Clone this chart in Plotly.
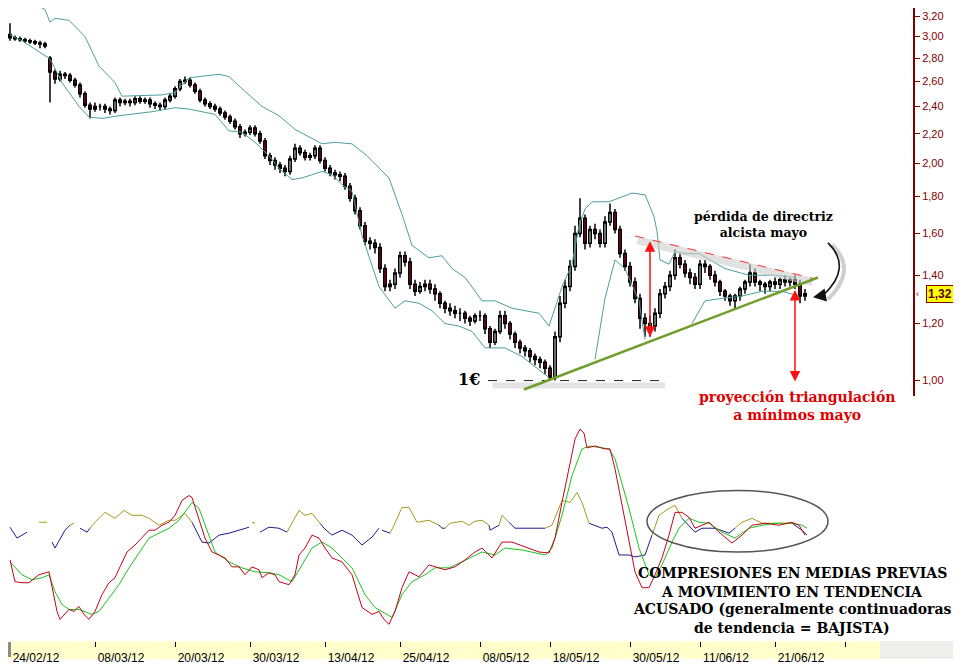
import math
import plotly.graph_objects as go

# ---- price candles (one bar per index) ----
opens = [3.02, 2.99, 2.98, 2.97, 2.96, 2.95, 2.94, 2.93, 2.80, 2.68,
         2.62, 2.66, 2.65, 2.61, 2.57, 2.50, 2.41, 2.38, 2.40, 2.40,
         2.38, 2.37, 2.45, 2.43, 2.44, 2.43, 2.46, 2.44, 2.45, 2.42,
         2.41, 2.40, 2.45, 2.48, 2.54, 2.60, 2.61, 2.57, 2.52, 2.45,
         2.42, 2.40, 2.38, 2.35, 2.32, 2.29, 2.25, 2.20, 2.21, 2.24,
         2.20, 2.15, 2.05, 2.02, 1.99, 1.97, 1.95, 2.03, 2.10, 2.07,
         2.04, 2.05, 2.10, 2.02, 1.97, 1.94, 1.93, 1.92, 1.86, 1.79,
         1.72, 1.64, 1.56, 1.55, 1.53, 1.43, 1.35, 1.36, 1.41, 1.49,
         1.46, 1.36, 1.33, 1.35, 1.36, 1.34, 1.32, 1.28, 1.26, 1.25,
         1.24, 1.24, 1.22, 1.21, 1.23, 1.23, 1.18, 1.13, 1.17, 1.23,
         1.20, 1.16, 1.13, 1.11, 1.10, 1.08, 1.07, 1.06, 1.04, 1.01,
         1.15, 1.28, 1.35, 1.44, 1.60, 1.68, 1.55, 1.62, 1.60, 1.55,
         1.66, 1.71, 1.62, 1.50, 1.44, 1.37, 1.30, 1.22, 1.20, 1.19,
         1.24, 1.32, 1.35, 1.40, 1.48, 1.45, 1.41, 1.39, 1.36, 1.45,
         1.44, 1.40, 1.37, 1.33, 1.31, 1.29, 1.31, 1.34, 1.37, 1.41,
         1.37, 1.36, 1.35, 1.37, 1.36, 1.38, 1.37, 1.38, 1.36, 1.31]
highs = [3.13, 3.01, 3.00, 2.99, 2.98, 2.97, 2.96, 2.95, 2.82, 2.70,
         2.69, 2.68, 2.67, 2.63, 2.59, 2.52, 2.43, 2.43, 2.42, 2.42,
         2.40, 2.47, 2.47, 2.46, 2.46, 2.48, 2.48, 2.47, 2.47, 2.44,
         2.43, 2.47, 2.50, 2.56, 2.62, 2.64, 2.63, 2.59, 2.54, 2.47,
         2.44, 2.42, 2.40, 2.37, 2.34, 2.31, 2.27, 2.23, 2.26, 2.26,
         2.22, 2.17, 2.07, 2.04, 2.01, 1.99, 2.05, 2.13, 2.12, 2.09,
         2.07, 2.12, 2.12, 2.04, 1.99, 1.96, 1.95, 1.94, 1.88, 1.81,
         1.74, 1.66, 1.58, 1.57, 1.55, 1.45, 1.38, 1.43, 1.51, 1.51,
         1.48, 1.38, 1.37, 1.38, 1.38, 1.36, 1.33, 1.29, 1.28, 1.27,
         1.26, 1.25, 1.23, 1.24, 1.25, 1.24, 1.19, 1.18, 1.25, 1.25,
         1.21, 1.17, 1.14, 1.12, 1.11, 1.09, 1.08, 1.07, 1.05, 1.17,
         1.31, 1.38, 1.47, 1.64, 1.79, 1.70, 1.64, 1.65, 1.62, 1.69,
         1.76, 1.73, 1.64, 1.52, 1.46, 1.39, 1.32, 1.24, 1.23, 1.26,
         1.34, 1.37, 1.42, 1.52, 1.50, 1.47, 1.43, 1.41, 1.47, 1.47,
         1.45, 1.42, 1.38, 1.34, 1.32, 1.32, 1.35, 1.38, 1.45, 1.43,
         1.38, 1.37, 1.38, 1.39, 1.39, 1.40, 1.39, 1.40, 1.38, 1.34]
lows = [2.96, 2.96, 2.95, 2.94, 2.93, 2.92, 2.89, 2.89, 2.43, 2.58,
        2.60, 2.62, 2.59, 2.55, 2.47, 2.39, 2.31, 2.36, 2.37, 2.35,
        2.34, 2.35, 2.40, 2.41, 2.40, 2.41, 2.42, 2.42, 2.39, 2.38,
        2.37, 2.38, 2.43, 2.46, 2.52, 2.58, 2.55, 2.50, 2.43, 2.40,
        2.38, 2.36, 2.33, 2.30, 2.27, 2.23, 2.17, 2.18, 2.19, 2.18,
        2.13, 2.03, 1.99, 1.96, 1.94, 1.92, 1.93, 2.01, 2.05, 2.02,
        2.02, 2.03, 2.00, 1.95, 1.92, 1.90, 1.89, 1.84, 1.77, 1.70,
        1.62, 1.54, 1.52, 1.50, 1.41, 1.33, 1.33, 1.34, 1.39, 1.44,
        1.34, 1.31, 1.32, 1.33, 1.32, 1.29, 1.26, 1.24, 1.23, 1.22,
        1.21, 1.20, 1.19, 1.20, 1.21, 1.16, 1.11, 1.12, 1.16, 1.18,
        1.14, 1.11, 1.09, 1.08, 1.06, 1.05, 1.04, 1.02, 1.00, 1.00,
        1.13, 1.26, 1.33, 1.42, 1.58, 1.52, 1.53, 1.57, 1.53, 1.53,
        1.64, 1.60, 1.48, 1.42, 1.35, 1.28, 1.18, 1.15, 1.15, 1.17,
        1.22, 1.30, 1.33, 1.38, 1.43, 1.39, 1.36, 1.34, 1.34, 1.41,
        1.38, 1.35, 1.31, 1.29, 1.27, 1.26, 1.29, 1.32, 1.35, 1.35,
        1.33, 1.32, 1.33, 1.34, 1.34, 1.35, 1.35, 1.34, 1.28, 1.29]
closes = [2.99, 2.98, 2.97, 2.96, 2.95, 2.94, 2.93, 2.91, 2.68, 2.62,
          2.66, 2.65, 2.61, 2.57, 2.50, 2.41, 2.38, 2.40, 2.40, 2.38,
          2.37, 2.45, 2.43, 2.44, 2.43, 2.46, 2.44, 2.45, 2.42, 2.41,
          2.40, 2.45, 2.48, 2.54, 2.60, 2.61, 2.57, 2.52, 2.45, 2.42,
          2.40, 2.38, 2.35, 2.32, 2.29, 2.25, 2.20, 2.21, 2.24, 2.20,
          2.15, 2.05, 2.02, 1.99, 1.97, 1.95, 2.03, 2.10, 2.07, 2.04,
          2.05, 2.10, 2.02, 1.97, 1.94, 1.93, 1.92, 1.86, 1.79, 1.72,
          1.64, 1.56, 1.55, 1.53, 1.43, 1.35, 1.36, 1.41, 1.49, 1.46,
          1.36, 1.33, 1.35, 1.36, 1.34, 1.32, 1.28, 1.26, 1.25, 1.24,
          1.24, 1.22, 1.21, 1.23, 1.23, 1.18, 1.13, 1.17, 1.23, 1.20,
          1.16, 1.13, 1.11, 1.10, 1.08, 1.07, 1.06, 1.04, 1.01, 1.15,
          1.28, 1.35, 1.44, 1.60, 1.68, 1.55, 1.62, 1.60, 1.55, 1.66,
          1.71, 1.62, 1.50, 1.44, 1.37, 1.30, 1.22, 1.20, 1.19, 1.24,
          1.32, 1.35, 1.40, 1.48, 1.45, 1.41, 1.39, 1.36, 1.45, 1.44,
          1.40, 1.37, 1.33, 1.31, 1.29, 1.31, 1.34, 1.37, 1.41, 1.37,
          1.36, 1.35, 1.37, 1.36, 1.38, 1.37, 1.38, 1.36, 1.31, 1.32]
bars = list(range(len(closes)))

# ---- bands around price ----
upper_x = [0, 2.4, 5, 7, 8, 9, 11.8, 15, 17.8, 21, 22.4, 30.4, 33, 35.8, 41.8,
           43.8, 46.4, 50.4, 53.8, 57, 62.4, 65, 68.4, 71.4, 75.8, 78.4, 80.4,
           83.8, 86.4, 88.4, 91, 94.4, 97, 100.4, 103, 105.8, 107.8, 110.4,
           112.4, 113.8, 115, 116.4, 119.8, 121.8, 124.4, 127, 128.8, 129.4,
           130, 131.8, 133, 135, 137.8, 143, 147.8, 153, 157]
upper_y = [3.32, 3.33, 3.33, 3.27, 3.14, 3.18, 3.16, 3.00, 2.73, 2.59, 2.48,
           2.49, 2.51, 2.63, 2.66, 2.64, 2.54, 2.40, 2.33, 2.23, 2.13, 2.14,
           2.13, 2.05, 1.91, 1.70, 1.54, 1.48, 1.49, 1.43, 1.39, 1.29, 1.29,
           1.26, 1.25, 1.24, 1.19, 1.35, 1.45, 1.64, 1.73, 1.77, 1.77, 1.79,
           1.82, 1.81, 1.69, 1.61, 1.47, 1.45, 1.51, 1.50, 1.50, 1.43, 1.40,
           1.40, 1.39]
lower_x = [0, 2.4, 7.8, 8.4, 10.4, 13.8, 15.8, 18.4, 21.8, 28.4, 33, 35.8, 41,
           43.8, 46.4, 49, 51.8, 53.8, 56.4, 58.4, 62.4, 64.4, 66.4, 68.4,
           70.4, 73.8, 77, 79, 81.8, 84.4, 87, 89.8, 92.4, 95, 99, 102.4,
           105.8, 107.8, None, 117, 119, 121, 123, 125.8, 127, None,
           136.4, 139, 142.4, 146.4, 150.4, 154.4, 157.8]
lower_y = [3.02, 2.96, 2.80, 2.76, 2.59, 2.40, 2.32, 2.31, 2.33, 2.36, 2.39,
           2.38, 2.34, 2.22, 2.21, 2.14, 2.05, 1.97, 1.90, 1.91, 1.95, 1.93,
           1.87, 1.83, 1.59, 1.35, 1.26, 1.29, 1.28, 1.25, 1.20, 1.19, 1.17,
           1.11, 1.11, 1.08, 1.035, 1.01, None, 1.07, 1.30, 1.47, 1.43, 1.29,
           1.14, None, 1.20, 1.29, 1.30, 1.31, 1.33, 1.33, 1.31]

# ---- lower panel: averages ----
fast_x = [0, 1, 2.4, 3.8, 5, 5.8, 7.8, 8.4, 9.4, 10, 11, 11.8, 12.8, 13.8, 14.8,
          15.8, 17, 18.4, 19.8, 21, 22, 23.4, 25, 26.4, 27.8, 29, 30.4, 31.8,
          33, 34.4, 35.8, 36.4, 37.8, 39, 40.4, 41.8, 43, 44.4, 45.8, 47,
          48.4, 49.8, 50.4, 51.8, 53, 53.8, 55.8, 57, 57.8, 59, 60.4, 61.8,
          63, 64.4, 66.4, 68.4, 70.4, 72.4, 73.8, 74.8, 75.8, 77, 78.4, 79.8,
          81.8, 83.8, 85.8, 87, 89, 91, 93, 94.4, 96.4, 98.4, 100.4, 103,
          105.8, 107.8, 109, 110.4, 111.8, 113, 114, 114.8, 115.4, 117, 119,
          120, 121, 122.4, 123.8, 125, 126.4, 127.8, 129, 130.4, 131.8, 133,
          134.4, 135.8, 137, 138.4, 139.8, 141.8, 144.4, 146.4, 148.4, 151,
          153.8, 156.4, 157.8, 159]
fast_v = [37.5, 26.5, 26, 26, 28.5, 30, 31.5, 23.5, 11.5, 7.5, 10, 12.5, 11.5,
          14, 10, 7.5, 11.5, 20, 26, 28.5, 34, 41.5, 45, 48.5, 52.5, 52.5, 55,
          56.5, 60, 67.5, 70, 69, 58.5, 48.5, 41.5, 40, 38.5, 34, 34, 30, 34,
          32.5, 28.5, 31, 30, 26.5, 25, 30, 40, 43.5, 50, 48.5, 43.5, 38.5,
          36.5, 30, 13.5, 10, 11.5, 7.5, 5, 11.5, 23.5, 31.5, 29, 35, 33.5,
          32.5, 34, 37.5, 41.5, 43.5, 38.5, 46.5, 46.5, 44, 41.5, 41, 48.5,
          66.5, 83.5, 98.5, 103.5, 101.5, 94, 95, 93.5, 93.5, 83.5, 65, 48.5,
          31.5, 23.5, 23.5, 30, 38.5, 50, 61.5, 61.5, 59, 53.5, 55, 56.5,
          51.5, 46, 50, 55, 56, 55, 56.5, 55, 50]
slow_x = [0, 2.4, 4.4, 6.4, 7.8, 9, 10.4, 11.8, 13.8, 16.4, 17.8, 19.8, 21.8,
          23.8, 25.8, 27.8, 29.8, 31.8, 33.8, 36.4, 37.8, 39, 41, 43.8, 46.4,
          49, 51.8, 53.8, 56.4, 58.4, 60.4, 62.4, 64.4, 66.4, 68.4, 71, 73,
          76.4, 78.4, 80.4, 83, 85, 87.8, 90.4, 93, 94.4, 97, 99, 102.4, 107,
          108.4, 110.4, 112.4, 114.4, 115.8, 119.8, 121, 122.4, 123.8, 125.8,
          127.8, 129, 130.4, 132.4, 133.8, 135.8, 137.8, 139.8, 142.4, 145,
          147.8, 150.4, 153, 156.4, 158.4, 159.4]
slow_v = [36.5, 30, 27.5, 28.5, 30, 21.5, 15, 12.5, 12.5, 10, 11.5, 18.5, 25,
          33.5, 41, 48.5, 51, 53.5, 57.5, 66.5, 63.5, 55, 41.5, 36.5, 33.5,
          31.5, 31, 30, 26.5, 35, 43.5, 46.5, 43.5, 38.5, 33.5, 20, 13.5, 8.5,
          20, 26.5, 30, 33.5, 33.5, 36.5, 40, 41.5, 40, 43.5, 42.5, 40, 43.5,
          60, 80, 93.5, 95, 93.5, 88.5, 76.5, 63.5, 43.5, 30, 28.5, 35, 46.5,
          53.5, 58.5, 56.5, 56, 51.5, 48.5, 53.5, 55, 56, 56, 55, 53.5]

# third line, drawn navy below its signal and olive above it
navy_x = [0, 1.4, 3.4, None, 8.4, 9, 11, 12, None, 14, 15.4, 16, None,
          36.4, 37, 38.4, 39.8, 41.8, 43.8, 45.8, 47.8, None, 50, 51.8, 53.8,
          55.4, None, 62, 62.8, 64.4, 66.4, 68.4, 70.4, 72.4, 73.8, None,
          74.4, 76, None, 85.8, 86.4, 87, None, 95.8, 96, 97.8, None, 99.8,
          101, 107, None, 115.8, 118.4, 119.4, 120.4, 121.8, 123.8, 125, 127,
          128.4, None, 134.4, 135.8, 137, 138.4, 141, 143.8, 145, None, 156.4,
          157, 158.4, 159.4]
navy_v = [54, 48.5, 51.5, None, 46.5, 43.5, 52.5, 55, None, 53.5, 51.5, 53.5,
          None, 56.5, 53.5, 46.5, 46, 50, 51, 52.5, 54, None, 51.5, 54, 53.5,
          51.5, None, 56, 53.5, 50, 52.5, 50, 45, 49, 53.5, None, 52.5, 51,
          None, 55, 53.5, 53.5, None, 55, 52.5, 55, None, 56.5, 53.5, 53.5,
          None, 56, 53.5, 54, 51.5, 40, 40, 39, 40, 50, None, 58.5, 55, 51.5,
          53.5, 53.5, 51, 53.5, None, 56, 55, 52.5, 50]
olive_x = [5.8, 7.4, None, 12, 12.8, None, 16, 16.8, 19, 21, 22.8, 24.4, 26.4,
           27.8, 29.8, 31.8, 33, 35, 36.4, None, 48.4, 49, None, 55.4, 56.4,
           57.8, 59, 60.4, 62, None, 76, 76.8, 78.4, 79.8, 81.4, 83.8, 85.8,
           None, 87, 88, 90.4, 91.8, 93, 94.4, 95.8, None, 97.8, 98.4, 99.8,
           None, 107, 108.4, 110.4, 112, 113.4, 114.4, 115.8, None, 128.4,
           129.8, 131.8, 133, 134.4, None, 145, 146.4, 148.4, 150.4, 153,
           156.4]
olive_v = [56.5, 56.5, None, 55, 56, None, 53.5, 56, 61.5, 58.5, 62.5, 60, 60,
           58.5, 55, 57.5, 57.5, 61, 56.5, None, 56.5, 56, None, 51.5, 56,
           62.5, 60, 61, 56, None, 51, 55, 64, 64, 56.5, 57.5, 55, None, 53.5,
           56, 57, 55, 57, 57.5, 55, None, 55, 60, 56.5, None, 53.5, 55, 67.5,
           66.5, 71.5, 66.5, 56, None, 50, 60, 63.5, 65, 58.5, None, 53.5,
           56.5, 58.5, 56, 56, 56]

# ---- axis labels ----
price_ticks = [1.0, 1.2, 1.4, 1.6, 1.8, 2.0, 2.2, 2.4, 2.6, 2.8, 3.0, 3.2]
price_labels = ["1,00", "1,20", "1,40", "1,60", "1,80", "2,00", "2,20",
                "2,40", "2,60", "2,80", "3,00", "3,20"]
date_idx = [0, 17, 33, 48, 63, 78, 94, 108, 124, 138, 153, 167]
date_labels = ["24/02/12", "08/03/12", "20/03/12", "30/03/12", "13/04/12",
               "25/04/12", "08/05/12", "18/05/12", "30/05/12", "11/06/12",
               "21/06/12", ""]
last_price = 1.32

BAND = "#4f9c9c"
MAROON = "#800000"
SERIF = "DejaVu Serif, serif"

# the page puts the figure 8 px in from the top-left corner of the window
W, H, OFF = 953, 657, 8
L = math.log10


def sx(p):
    return (p - OFF) / W


def sy(p):
    return 1 - (p - OFF) / H


fig = go.Figure()

fig.add_trace(go.Scatter(x=upper_x, y=upper_y, mode="lines",
                         line=dict(color=BAND, width=1), connectgaps=False))
fig.add_trace(go.Scatter(x=lower_x, y=lower_y, mode="lines",
                         line=dict(color=BAND, width=1), connectgaps=False))

# shadows and guide lines
fig.add_trace(go.Scatter(x=[96.5, 131], y=[0.984, 0.984], mode="lines",
                         line=dict(color="#e4e4e4", width=6)))
fig.add_trace(go.Scatter(x=[95.6, 130], y=[1.0, 1.0], mode="lines",
                         line=dict(color="#222", width=1, dash="dash")))
fig.add_trace(go.Scatter(x=[125.5, 160.5], y=[1.565, 1.37], mode="lines",
                         line=dict(color="rgba(205,205,205,0.6)", width=8)))

fig.add_trace(go.Candlestick(
    x=bars, open=opens, high=highs, low=lows, close=closes,
    increasing=dict(fillcolor="#d6efd6", line=dict(color="#000", width=1.5)),
    decreasing=dict(fillcolor="#b3122a", line=dict(color="#000", width=1.5)),
    whiskerwidth=0,
))

fig.add_trace(go.Scatter(x=[125, 160.8], y=[1.587, 1.385], mode="lines",
                         line=dict(color="#ff3030", width=1, dash="dash")))
fig.add_trace(go.Scatter(x=[102.8, 161.6], y=[0.972, 1.39], mode="lines",
                         line=dict(color="#6f9e2c", width=2.5)))

for xs, vs, col in [(navy_x, navy_v, "#1c1c8c"), (olive_x, olive_v, "#a49a1e"),
                    (slow_x, slow_v, "#1cc21c"), (fast_x, fast_v, "#c8001a")]:
    fig.add_trace(go.Scatter(x=xs, y=vs, yaxis="y2", mode="lines",
                             line=dict(color=col, width=1), connectgaps=False))

shapes = [
    # highlight behind last bars
    dict(type="rect", xref="x", yref="y", x0=156.6, x1=159.4,
         y0=L(1.25), y1=L(1.346), fillcolor="#ffff55", line_width=0,
         layer="below"),
    # date strip
    dict(type="rect", xref="paper", yref="paper", x0=0, x1=sx(880),
         y0=sy(665), y1=sy(647), fillcolor="#ffffcc", line_width=0,
         layer="below"),
    dict(type="rect", xref="paper", yref="paper", x0=sx(880), x1=1,
         y0=sy(665), y1=sy(647), fillcolor="#eeeeea", line_width=0,
         layer="below"),
    dict(type="rect", xref="paper", yref="paper", x0=sx(8), x1=sx(11),
         y0=sy(663), y1=sy(648), fillcolor="#8a8a8a", line_width=0),
    # ellipse around the compression
    dict(type="circle", xref="paper", yref="paper", x0=sx(647), x1=sx(828),
         y0=sy(557), y1=sy(495), line=dict(color="#555", width=1.5)),
    # curved black arrow with its shadow
    dict(type="path", xref="paper", yref="paper",
         path=f"M {sx(832)},{sy(247)} Q {sx(858)},{sy(272)} {sx(828)},{sy(302)}",
         line=dict(color="#cfcfcf", width=4)),
    dict(type="path", xref="paper", yref="paper",
         path=f"M {sx(828)},{sy(245)} Q {sx(853)},{sy(270)} {sx(823)},{sy(298)}",
         line=dict(color="#111", width=1.6)),
]

red_arrow = dict(text="", showarrow=True, arrowcolor="#ff1010", arrowwidth=1.5,
                 arrowhead=2, arrowsize=1.4, arrowside="end+start",
                 xref="x", yref="y", axref="x", ayref="y")

annotations = [
    dict(red_arrow, x=128, y=L(1.56), ax=128, ay=L(1.145)),
    dict(red_arrow, x=157, y=L(1.335), ax=157, ay=L(0.992)),
    dict(text="", showarrow=True, xref="paper", yref="paper",
         x=sx(813), y=sy(300), ax=11, ay=-2, arrowhead=2, arrowsize=1.3,
         arrowwidth=2, arrowcolor="#111"),
    dict(text="<b>pérdida de directriz<br>alcista mayo</b>", xref="paper",
         yref="paper", x=sx(763), y=sy(227), xanchor="center",
         yanchor="middle", showarrow=False,
         font=dict(family=SERIF, size=12.5, color="#000")),
    dict(text="<b>proyección triangulación<br>a mínimos mayo</b>",
         xref="paper", yref="paper", x=sx(797), y=sy(410), xanchor="center",
         yanchor="middle", showarrow=False,
         font=dict(family=SERIF, size=14, color="#e00000")),
    dict(text="<b>1€</b>", xref="paper", yref="paper", x=sx(469),
         y=sy(383), xanchor="center", yanchor="middle", showarrow=False,
         font=dict(family=SERIF, size=16, color="#000")),
    dict(text="<b>1,32</b>", xref="paper", yref="y", x=sx(940),
         y=L(last_price), xanchor="center", showarrow=False,
         bgcolor="#ffff00", bordercolor=MAROON, borderwidth=1, borderpad=1,
         font=dict(family="Liberation Sans, Arial", size=12, color="#5a0000")),
    dict(text="‹", xref="paper", yref="y", x=sx(917), y=L(last_price),
         xanchor="center", showarrow=False,
         font=dict(family="Liberation Sans", size=9, color=MAROON)),
]
for txt, yy in [("COMPRESIONES EN MEDIAS PREVIAS", 578),
                ("A MOVIMIENTO EN TENDENCIA", 597),
                ("ACUSADO (generalmente continuadoras", 615),
                ("de tendencia = BAJISTA)", 634)]:
    annotations.append(dict(text=f"<b>{txt}</b>", xref="paper", yref="paper",
                            x=sx(792), y=sy(yy), xanchor="center",
                            yanchor="middle", showarrow=False,
                            font=dict(family=SERIF, size=14, color="#000")))

fig.update_layout(
    width=W, height=H, autosize=False,
    margin=dict(l=0, r=0, t=0, b=0),
    paper_bgcolor="white", plot_bgcolor="white",
    showlegend=False,
    xaxis=dict(domain=[0, sx(914)], range=[-0.4, -0.4 + (914 - OFF) / 5],
               anchor="free", position=sy(647), showgrid=False,
               zeroline=False, showline=False,
               rangeslider=dict(visible=False),
               tickmode="array", tickvals=date_idx, ticktext=date_labels,
               ticks="outside", ticklen=5, tickcolor="#000",
               ticklabelshift=26, ticklabelstandoff=0,
               tickfont=dict(family="Liberation Sans, Arial", size=12,
                             color="#000")),
    yaxis=dict(domain=[sy(400), 1], type="log",
               range=[(384 - 400) / 727.6, (384 - OFF) / 727.6],
               side="right", anchor="free", position=sx(914),
               showgrid=False, zeroline=False,
               showline=True, linecolor=MAROON, linewidth=2,
               tickmode="array", tickvals=price_ticks, ticktext=price_labels,
               ticks="outside", ticklen=5, tickcolor=MAROON,
               tickfont=dict(family="Liberation Sans, Arial", size=11,
                             color=MAROON)),
    yaxis2=dict(domain=[sy(640), sy(420)], range=[0, 110], anchor="x",
                visible=False),
    shapes=shapes, annotations=annotations,
)

fig.write_html("out.html")
